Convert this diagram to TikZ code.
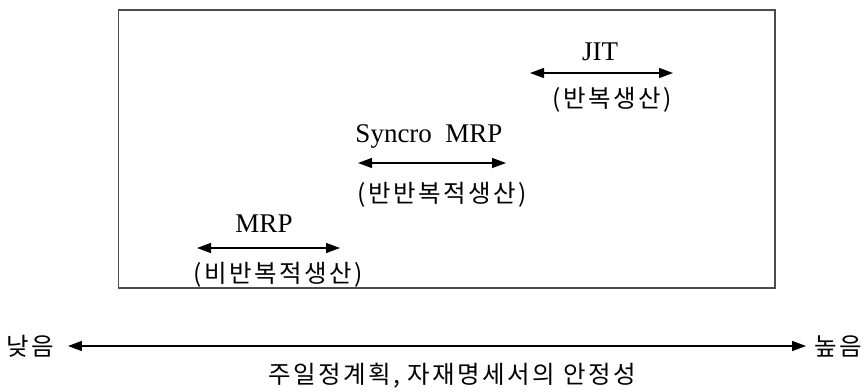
\documentclass[tikz,border=0pt]{standalone}
\usepackage{fontspec}
\setmainfont{Liberation Serif}
\newfontfamily\kr[LetterSpace=10]{Noto Sans CJK KR}
\usetikzlibrary{arrows.meta}
\begin{document}
\begin{tikzpicture}[x=1pt,y=-1pt,
  lat/.style={inner sep=0pt, anchor=base, font=\fontsize{27}{31}\selectfont},
  kor/.style={inner sep=0pt, anchor=center, font=\fontsize{24.5}{28}\selectfont\kr},
  dbl/.style={line width=1.3pt, {Triangle[length=14pt,width=10pt]}-{Triangle[length=14pt,width=10pt]}},
  frame/.style={draw=black!70, line width=1.2pt}]
\useasboundingbox (0,0) rectangle (866,391);
\draw[frame] (118.5,10) rectangle (775,288);
% JIT
\node[lat] (jit) at (600,60) {JIT};
\coordinate (jitL) at (530,73);
\coordinate (jitR) at (673,73);
\draw[dbl] (jitL) -- (jitR);
\node[kor] (jitk) at (612,100) {(반복생산)};
% Syncro MRP
\node[lat] (smrp) at (429,142) {Syncro\ \ MRP};
\coordinate (smL) at (358,163);
\coordinate (smR) at (506,163);
\draw[dbl] (smL) -- (smR);
\node[kor] (smk) at (442,195) {(반반복적생산)};
% MRP
\node[lat] (mrp) at (264,232) {MRP};
\coordinate (mL) at (197,248);
\coordinate (mR) at (340,248);
\draw[dbl] (mL) -- (mR);
\node[kor] (mk) at (278,275) {(비반복적생산)};
% bottom axis
\node[kor] (low) at (30,346) {낮음};
\node[kor] (high) at (838,346) {높음};
\draw[dbl] ([xshift=14]low.east) coordinate (bL) -- ([xshift=-8]high.west) coordinate (bR);
\node[kor] (axis) at (452,376) {주일정계획,\hspace{8pt}자재명세서의\hspace{8pt}안정성};
\end{tikzpicture}
\end{document}
